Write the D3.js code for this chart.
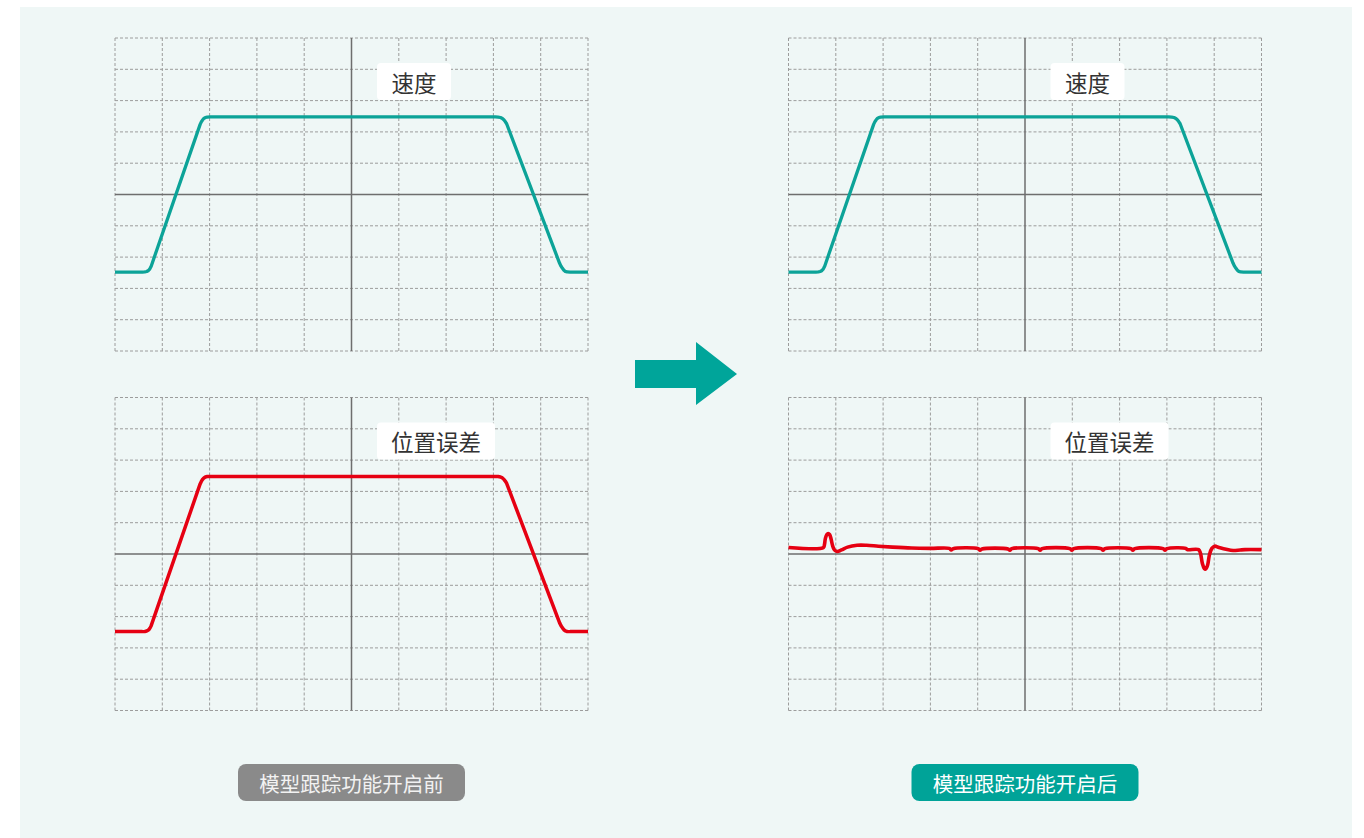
<!DOCTYPE html>
<html><head><meta charset="utf-8">
<script src="https://cdn.jsdelivr.net/npm/d3@7/dist/d3.min.js"></script>
<style>
html,body{margin:0;padding:0;background:#ffffff;}
svg{display:block;}
text{font-family:"Noto Sans CJK SC","Noto Sans",sans-serif;}
</style></head>
<body>
<svg id="c" width="1364" height="838"></svg>
<script>
// ---- data (grid units: x 0..10, y -5..5) ----
const gridX = [0,1,2,3,4,5,6,7,8,9,10];
const gridY = [-5,-4,-3,-2,-1,0,1,2,3,4,5];

const speed = [
  [0,-2.48],[0.58,-2.48],[0.63,-2.475],[0.67,-2.46],[0.7,-2.435],[0.725,-2.4],[0.745,-2.35],[0.765,-2.29],
  [1.8,2.24],[1.825,2.32],[1.85,2.38],[1.88,2.43],[1.91,2.46],[1.95,2.475],[2.02,2.48],
  [8.04,2.48],[8.1,2.475],[8.15,2.46],[8.19,2.43],[8.22,2.39],[8.25,2.33],[8.28,2.26],
  [9.4,-2.2],[9.43,-2.29],[9.46,-2.36],[9.49,-2.42],[9.52,-2.455],[9.56,-2.475],[9.62,-2.48],[10,-2.48]
];
const errorBefore = [
  [0,-2.48],[0.58,-2.48],[0.63,-2.475],[0.67,-2.46],[0.7,-2.435],[0.725,-2.4],[0.745,-2.35],[0.765,-2.29],
  [1.8,2.24],[1.825,2.32],[1.85,2.38],[1.88,2.43],[1.91,2.46],[1.95,2.475],[2.02,2.48],
  [8.04,2.48],[8.1,2.475],[8.15,2.46],[8.19,2.43],[8.22,2.39],[8.25,2.33],[8.28,2.26],
  [9.4,-2.2],[9.43,-2.29],[9.46,-2.36],[9.49,-2.42],[9.52,-2.455],[9.56,-2.475],[9.62,-2.48],[10,-2.48]
];
const errorAfter = [
  [0,0.21],[0.74,0.21],[0.76,0.3],[0.78,0.5],[0.81,0.62],[0.84,0.65],[0.87,0.62],[0.9,0.48],
  [0.93,0.28],[0.97,0.13],[1.03,0.08],[1.12,0.13],[1.25,0.22],[1.45,0.28],[1.65,0.28],
  [1.9,0.25],[2.2,0.22],[2.6,0.19],[3.0,0.18],[3.4,0.18],[3.44,0.13],[3.48,0.17],
  [4.01,0.17],[4.05,0.12],[4.09,0.16],[4.64,0.16],[4.68,0.12],[4.72,0.17],
  [5.28,0.17],[5.32,0.12],[5.36,0.17],[5.95,0.17],[5.99,0.12],[6.03,0.17],
  [6.61,0.17],[6.65,0.12],[6.69,0.17],[7.24,0.17],[7.28,0.12],[7.32,0.17],
  [7.92,0.17],[7.96,0.12],[8.0,0.17],[8.4,0.18],[8.43,0.14],[8.67,0.14],
  [8.71,0.02],[8.75,-0.3],[8.79,-0.46],[8.82,-0.48],[8.86,-0.36],[8.9,-0.02],
  [8.95,0.18],[9.01,0.25],[9.1,0.21],[9.25,0.15],[9.4,0.11],[9.55,0.13],[9.65,0.14],[10,0.14]
];

const panelTitles = ["速度","位置误差"];
const captions = ["模型跟踪功能开启前","模型跟踪功能开启后"];

// ---- drawing ----
const svg = d3.select("#c");
svg.append("rect").attr("x",20).attr("y",7).attr("width",1332).attr("height",831).attr("fill","#eff7f6");

const W = 473, H = 313;
const cols = [115, 788.5];
const rows = [38, 397.5];
const teal = "#0ca398", red = "#e60012";

const panels = [
  {c:0,r:0,data:speed,color:teal,sw:3.3,curve:d3.curveLinear,title:panelTitles[0]},
  {c:1,r:0,data:speed,color:teal,sw:3.3,curve:d3.curveLinear,title:panelTitles[0]},
  {c:0,r:1,data:errorBefore,color:red,sw:3.5,curve:d3.curveLinear,title:panelTitles[1]},
  {c:1,r:1,data:errorAfter,color:red,sw:3.6,curve:d3.curveCatmullRom.alpha(0.5),title:panelTitles[1]}
];

panels.forEach(p => {
  const x0 = cols[p.c], y0 = rows[p.r];
  const x = d3.scaleLinear().domain([0,10]).range([x0, x0+W]);
  const y = d3.scaleLinear().domain([-5,5]).range([y0+H, y0]);
  const g = svg.append("g");
  // dashed grid
  g.selectAll("line.vx").data(gridX.filter(d=>d!==5)).enter().append("line")
    .attr("x1",d=>x(d)).attr("x2",d=>x(d)).attr("y1",y(-5)).attr("y2",y(5))
    .attr("stroke","#9c9c9c").attr("stroke-width",1).attr("stroke-dasharray","3,2");
  g.selectAll("line.hy").data(gridY.filter(d=>d!==0)).enter().append("line")
    .attr("y1",d=>y(d)).attr("y2",d=>y(d)).attr("x1",x(0)).attr("x2",x(10))
    .attr("stroke","#9c9c9c").attr("stroke-width",1).attr("stroke-dasharray","3,2");
  // center axes
  g.append("line").attr("x1",x(5)).attr("x2",x(5)).attr("y1",y(-5)).attr("y2",y(5))
    .attr("stroke","#6e6e6e").attr("stroke-width",1.5);
  g.append("line").attr("x1",x(0)).attr("x2",x(10)).attr("y1",y(0)).attr("y2",y(0))
    .attr("stroke","#6e6e6e").attr("stroke-width",1.5);
  // title label
  const tw = p.title.length*22 + 30;
  const cx = x(5) + (p.title.length===2 ? 62.5 : 84.5);
  const cy = y(3.61);
  g.append("rect").attr("x",cx-tw/2).attr("y",cy-18.5).attr("width",tw).attr("height",37)
    .attr("rx",4).attr("fill","#ffffff");
  g.append("text").attr("x",cx).attr("y",cy).attr("text-anchor","middle")
    .attr("dominant-baseline","central").attr("font-size",22.5).attr("fill","#333333").text(p.title);
  // curve
  const line = d3.line().x(d=>x(d[0])).y(d=>y(d[1])).curve(p.curve);
  g.append("path").attr("d",line(p.data)).attr("fill","none").attr("stroke",p.color)
    .attr("stroke-width",p.sw).attr("stroke-linejoin","round").attr("stroke-linecap","butt");
});

// arrow
svg.append("path")
  .attr("d","M635,360 L696,360 L696,342 L737,374 L696,405 L696,388 L635,388 Z")
  .attr("fill","#00a59a");

// captions
const capColors = ["#8a8a8a","#00a398"];
captions.forEach((t,i) => {
  const cx = cols[i] + W/2;
  svg.append("rect").attr("x",cx-113.5).attr("y",764).attr("width",227).attr("height",37)
    .attr("rx",8).attr("fill",capColors[i]);
  svg.append("text").attr("x",cx).attr("y",782.5).attr("text-anchor","middle")
    .attr("dominant-baseline","central").attr("font-size",20.5)
    .attr("fill", i===0 ? "#f2f2f2" : "#ffffff").text(t);
});
</script>
</body></html>
